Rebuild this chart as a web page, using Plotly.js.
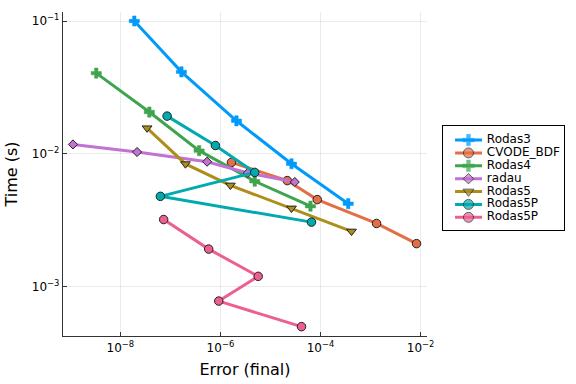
<!DOCTYPE html>
<html>
<head>
<meta charset="utf-8">
<script src="https://cdn.plot.ly/plotly-3.0.1.min.js"></script>
<style>html,body{margin:0;padding:0;background:#fff;}#chart{width:576px;height:384px;}</style>
</head>
<body>
<div id="chart"></div>
<script>
// Data (error, time)
const seriesNames = ["Rodas3", "CVODE_BDF", "Rodas4", "radau", "Rodas5", "Rodas5P", "Rodas5P"];
const rodas3Err = [1.9e-8, 1.66e-7, 2.09e-6, 2.63e-5, 3.58e-4];
const rodas3Time = [0.100, 0.0414, 0.0177, 0.0084, 0.0042];
const cvodeErr = [1.66e-6, 2.16e-5, 8.6e-5, 1.32e-3, 8.3e-3];
const cvodeTime = [0.0086, 0.00627, 0.00451, 0.00298, 0.0021];
const rodas4Err = [3.3e-9, 3.8e-8, 3.75e-7, 4.85e-6, 6.3e-5];
const rodas4Time = [0.0405, 0.0206, 0.01054, 0.0062, 0.00402];
const radauErr = [1.13e-9, 2.16e-8, 5.42e-7, 3.52e-6, 3.06e-5];
const radauTime = [0.01175, 0.0103, 0.0087, 0.00716, 0.00612];
const rodas5Err = [3.42e-8, 2.0e-7, 1.58e-6, 2.63e-5, 4.17e-4];
const rodas5Time = [0.0156, 0.00837, 0.00578, 0.00388, 0.0026];
const rodas5pAErr = [8.6e-8, 7.94e-7, 4.85e-6, 6.3e-8, 6.6e-5];
const rodas5pATime = [0.0192, 0.01153, 0.00723, 0.00477, 0.00305];
const rodas5pBErr = [7.34e-8, 5.83e-7, 5.68e-6, 9.25e-7, 4.17e-5];
const rodas5pBTime = [0.00319, 0.00191, 0.00119, 0.000775, 0.000497];
const xTickVals = [1e-8, 1e-6, 1e-4, 1e-2];
const xTickText = ["10<sup>−8</sup>", "10<sup>−6</sup>", "10<sup>−4</sup>", "10<sup>−2</sup>"];
const yTickVals = [1e-3, 1e-2, 1e-1];
const yTickText = ["10<sup>−3</sup>", "10<sup>−2</sup>", "10<sup>−1</sup>"];

const colors = ["#009AFA", "#E36F47", "#3EA44E", "#C371D2", "#AC8E18", "#00AAAE", "#ED5E93"];
const symbols = ["cross", "circle", "cross", "diamond", "triangle-down", "circle", "circle"];
const symSize = {"cross": 8.5, "circle": 8.5, "diamond": 7, "triangle-down": 8.5};
const legSize = {"cross": 9.5, "circle": 10, "diamond": 8, "triangle-down": 9.5};
const xs = [rodas3Err, cvodeErr, rodas4Err, radauErr, rodas5Err, rodas5pAErr, rodas5pBErr];
const ys = [rodas3Time, cvodeTime, rodas4Time, radauTime, rodas5Time, rodas5pATime, rodas5pBTime];

const traces = seriesNames.map((n, i) => {
  const isCross = symbols[i] === "cross";
  return {
    x: xs[i], y: ys[i], name: n, type: "scatter", mode: "lines+markers",
    xaxis: "x", yaxis: "y", showlegend: false,
    line: {color: colors[i], width: 3},
    marker: {symbol: symbols[i], size: symSize[symbols[i]], color: colors[i],
      line: {color: isCross ? colors[i] : "#222", width: isCross ? 0.5 : 1}}
  };
});

// Legend drawn in a small inset axis (one row per series)
const legX = [0.097, 0.208, 0.32];
seriesNames.forEach((n, i) => {
  const isCross = symbols[i] === "cross";
  const s = legSize[symbols[i]];
  const lw = isCross ? 0.5 : 1;
  traces.push({
    x: legX, y: [i, i, i], type: "scatter", mode: "lines+markers",
    xaxis: "x2", yaxis: "y2", showlegend: false, cliponaxis: false,
    line: {color: colors[i], width: 3},
    marker: {symbol: symbols[i], size: [0, s, 0], color: colors[i],
      line: {color: isCross ? colors[i] : "#222", width: [0, lw, 0]}}
  });
});
traces.push({
  x: seriesNames.map(() => 0.36), y: seriesNames.map((n, i) => i),
  text: seriesNames, mode: "text", type: "scatter", textposition: "middle right",
  xaxis: "x2", yaxis: "y2", showlegend: false, cliponaxis: false,
  textfont: {family: "DejaVu Sans, sans-serif", size: 12, color: "#000"}
});

const font = {family: "DejaVu Sans, sans-serif", color: "#000"};
const layout = {
  width: 576, height: 384,
  margin: {l: 63, r: 11, t: 12, b: 48},
  paper_bgcolor: "#fff", plot_bgcolor: "#fff",
  font: Object.assign({size: 12}, font),
  showlegend: false,
  xaxis: {type: "log", domain: [0, 0.7251], range: [-9.146, -1.872], tickvals: xTickVals, ticktext: xTickText,
    anchor: "y",
    showgrid: true, gridcolor: "rgba(0,0,0,0.08)", gridwidth: 1, zeroline: false,
    showline: true, linecolor: "#333", linewidth: 1.2, mirror: false,
    ticks: "inside", ticklen: 4, tickcolor: "#333",
    tickfont: Object.assign({size: 12}, font),
    title: {text: "Error (final)", font: Object.assign({size: 16}, font), standoff: 10}},
  yaxis: {type: "log", domain: [0, 1], range: [-3.374, -0.932], tickvals: yTickVals, ticktext: yTickText,
    anchor: "x",
    showgrid: true, gridcolor: "rgba(0,0,0,0.08)", gridwidth: 1, zeroline: false,
    showline: true, linecolor: "#333", linewidth: 1.2, mirror: false,
    ticks: "inside", ticklen: 4, tickcolor: "#333",
    tickfont: Object.assign({size: 12}, font),
    title: {text: "Time (s)", font: Object.assign({size: 16}, font), standoff: 10}},
  xaxis2: {domain: [0.7576, 0.9986], range: [0, 1], anchor: "y2",
    showgrid: false, zeroline: false, showticklabels: false, ticks: "",
    showline: true, mirror: true, linecolor: "#000", linewidth: 1},
  yaxis2: {domain: [0.327, 0.648], range: [6.99, -1.087], anchor: "x2",
    showgrid: false, zeroline: false, showticklabels: false, ticks: "",
    showline: true, mirror: true, linecolor: "#000", linewidth: 1}
};
Plotly.newPlot("chart", traces, layout, {staticPlot: true, displayModeBar: false});
</script>
</body>
</html>
